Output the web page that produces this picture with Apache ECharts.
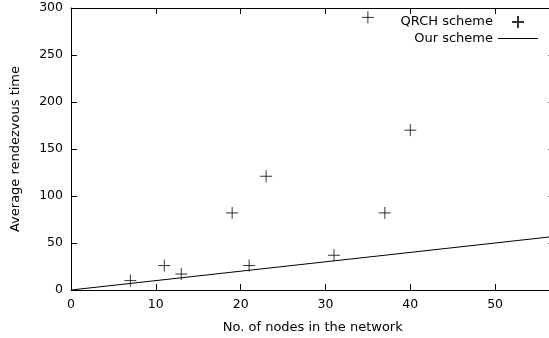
<!DOCTYPE html>
<html>
<head>
<meta charset="utf-8">
<script src="https://cdn.jsdelivr.net/npm/echarts@6/dist/echarts.min.js"></script>
<style>
html, body { margin: 0; padding: 0; background: #fff; }
#chart { width: 549px; height: 338px; }
</style>
</head>
<body>
<div id="chart"></div>
<script>
// QRCH scheme measurements
var qrchNodes = [7, 11, 13, 19, 21, 23, 31, 35, 37, 40];
var qrchTime = [10, 26, 17, 82, 26, 121, 37, 290, 82, 170];
// our scheme: straight line
var ourNodes = [0, 57];
var ourTime = [0, 57];
var xTicks = [0, 10, 20, 30, 40, 50];
var yTicks = [0, 50, 100, 150, 200, 250, 300];

var chart = echarts.init(document.getElementById('chart'));

var font = 'DejaVu Sans';
var plus = 'path://M0,6 L12,6 M6,0 L6,12';

var qrchData = qrchNodes.map(function (x, i) { return [x, qrchTime[i]]; });
var ourData = ourNodes.map(function (x, i) { return [x, ourTime[i]]; });

function ticks() {
    return { show: true, inside: true, length: 6, lineStyle: { color: '#000', width: 1 } };
}
function axisLine() {
    return { show: true, onZero: false, lineStyle: { color: '#000', width: 1 } };
}

var option = {
    animation: false,
    backgroundColor: '#fff',
    grid: { left: 71, right: -5.5, top: 8, bottom: 48, outerBoundsMode: 'none', containLabel: false },
    legend: {
        orient: 'vertical',
        right: 6,
        top: 10,
        align: 'right',
        itemGap: 3,
        itemWidth: 40,
        itemHeight: 12,
        textStyle: { fontFamily: font, fontSize: 13, color: '#000' },
        data: [
            { name: 'QRCH scheme' },
            { name: 'Our scheme', icon: 'path://M0,0 L40,0 L40,1 L0,1 Z', itemStyle: { color: '#000' } }
        ]
    },
    xAxis: [{
        type: 'value',
        min: 0,
        max: 57,
        interval: 10,
        position: 'bottom',
        name: 'No. of nodes in the network',
        nameLocation: 'middle',
        nameGap: 31,
        nameTextStyle: { fontFamily: font, fontSize: 13, color: '#000' },
        axisLine: axisLine(),
        axisTick: ticks(),
        axisLabel: {
            fontFamily: font, fontSize: 12.5, color: '#000', margin: 8,
            formatter: function (v) { return xTicks.indexOf(v) >= 0 ? v : ''; }
        },
        splitLine: { show: false }
    }, {
        type: 'value',
        min: 0,
        max: 57,
        interval: 10,
        position: 'top',
        axisLine: axisLine(),
        axisTick: ticks(),
        axisLabel: { show: false },
        splitLine: { show: false }
    }],
    yAxis: [{
        type: 'value',
        min: 0,
        max: 300,
        interval: 50,
        position: 'left',
        name: 'Average rendezvous time',
        nameLocation: 'middle',
        nameGap: 49,
        nameTextStyle: { fontFamily: font, fontSize: 13, color: '#000' },
        axisLine: axisLine(),
        axisTick: ticks(),
        axisLabel: {
            fontFamily: font, fontSize: 12.5, color: '#000', margin: 8,
            formatter: function (v) { return yTicks.indexOf(v) >= 0 ? v : ''; }
        },
        splitLine: { show: false }
    }, {
        type: 'value',
        min: 0,
        max: 300,
        interval: 50,
        position: 'right',
        axisLine: axisLine(),
        axisTick: ticks(),
        axisLabel: { show: false },
        splitLine: { show: false }
    }],
    series: [{
        name: 'QRCH scheme',
        type: 'scatter',
        xAxisIndex: 0,
        yAxisIndex: 0,
        symbol: plus,
        symbolSize: 12,
        itemStyle: { color: 'transparent', borderColor: '#000', borderWidth: 1 },
        data: qrchData
    }, {
        name: 'Our scheme',
        type: 'line',
        xAxisIndex: 0,
        yAxisIndex: 0,
        showSymbol: false,
        symbol: 'none',
        lineStyle: { color: '#000', width: 1 },
        itemStyle: { color: '#000' },
        data: ourData
    }]
};

chart.setOption(option);
</script>
</body>
</html>
